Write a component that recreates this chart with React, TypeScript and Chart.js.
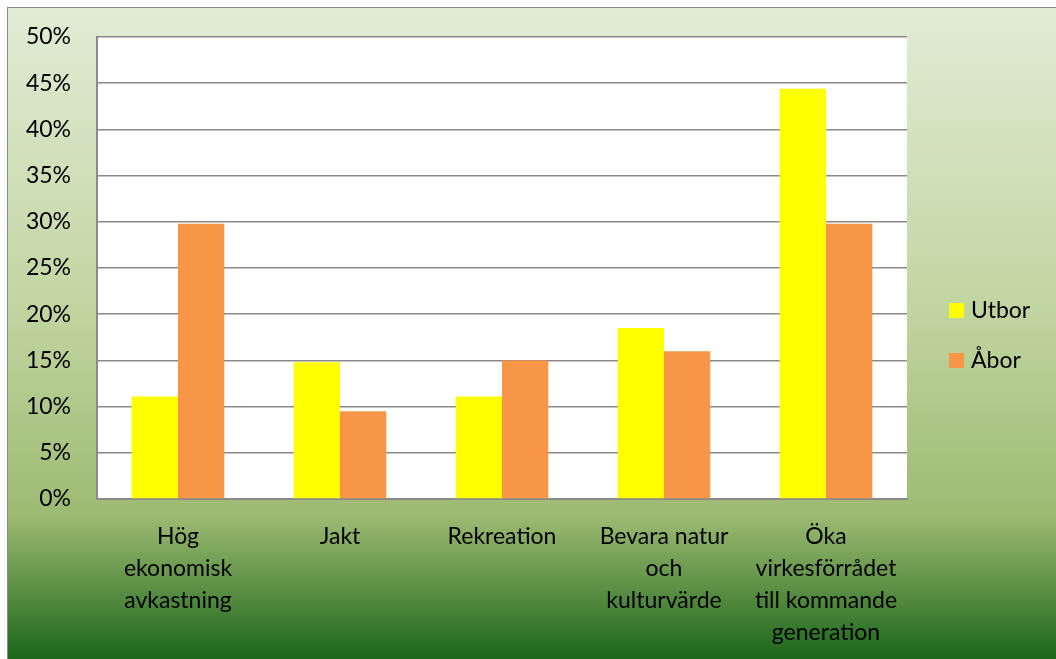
import React, { useEffect, useRef } from "react";
import { Chart, registerables } from "chart.js";

Chart.register(...registerables);

const categories: string[][] = [
  ["Hög", "ekonomisk", "avkastning"],
  ["Jakt"],
  ["Rekreation"],
  ["Bevara natur", "och", "kulturvärde"],
  ["Öka", "virkesförrådet", "till kommande", "generation"],
];
const utbor: number[] = [11.1, 14.8, 11.1, 18.5, 44.4];
const abor: number[] = [29.8, 9.5, 15.0, 16.0, 29.8];
const seriesNames: string[] = ["Utbor", "Åbor"];
const seriesColors: string[] = ["#FFFF00", "#F79646"];

const FONT = "Lato, 'Open Sans', sans-serif";
const FONT_SIZE = 23;

const bgPlugin = {
  id: "bgPlugin",
  beforeDraw(chart: any) {
    const { ctx, width, height, chartArea } = chart;
    ctx.save();
    const g = ctx.createLinearGradient(0, 0, 0, height);
    g.addColorStop(0, "#E1ECD5");
    g.addColorStop(0.45, "#C2D6A2");
    g.addColorStop(0.78, "#9DBA72");
    g.addColorStop(1, "#1B6619");
    ctx.fillStyle = g;
    ctx.fillRect(0, 0, width, height);
    ctx.fillStyle = "#FFFFFF";
    ctx.fillRect(chartArea.left, chartArea.top, chartArea.right - chartArea.left, chartArea.bottom - chartArea.top);
    ctx.restore();
  },
};

const legendPlugin = {
  id: "customLegend",
  afterDraw(chart: any) {
    const { ctx } = chart;
    ctx.save();
    const x0 = 941;
    const ys = [295, 345];
    chart.data.datasets.forEach((ds: any, i: number) => {
      ctx.fillStyle = ds.backgroundColor;
      ctx.fillRect(x0, ys[i], 15, 15);
      ctx.fillStyle = "#000000";
      ctx.font = `${FONT_SIZE}px ${FONT}`;
      ctx.textBaseline = "middle";
      ctx.textAlign = "left";
      ctx.fillText(ds.label, x0 + 22, ys[i] + 8);
    });
    ctx.restore();
  },
};

export default function App() {
  const ref = useRef<HTMLCanvasElement | null>(null);
  useEffect(() => {
    if (!ref.current) return;
    const chart = new Chart(ref.current, {
      type: "bar",
      data: {
        labels: categories,
        datasets: [
          { label: seriesNames[0], data: utbor, backgroundColor: seriesColors[0], borderWidth: 0 },
          { label: seriesNames[1], data: abor, backgroundColor: seriesColors[1], borderWidth: 0 },
        ],
      },
      options: {
        responsive: false,
        animation: false,
        maintainAspectRatio: false,
        layout: { padding: { top: 29, right: 149, left: 0, bottom: 0 } },
        datasets: { bar: { categoryPercentage: 0.5714, barPercentage: 1 } },
        plugins: { legend: { display: false }, tooltip: { enabled: false } },
        scales: {
          x: {
            grid: { display: false, drawTicks: false },
            border: { display: true, color: "#8a8a8a", width: 2 },
            ticks: {
              color: "#000000",
              font: { family: FONT, size: FONT_SIZE, lineHeight: 32 / FONT_SIZE },
              padding: 22,
              maxRotation: 0,
              autoSkip: false,
            },
            afterFit(scale: any) {
              scale.height = 160;
              scale.paddingLeft = 0;
              scale.paddingRight = 0;
            },
          },
          y: {
            min: 0,
            max: 50,
            grid: { color: "#8a8a8a", lineWidth: 1.5, drawTicks: false },
            border: { display: true, color: "#8a8a8a", width: 2 },
            ticks: {
              stepSize: 5,
              color: "#000000",
              font: { family: FONT, size: FONT_SIZE },
              padding: 26,
              callback: (v: any) => `${v}%`,
            },
            afterFit(scale: any) {
              scale.width = 89;
              scale.paddingTop = 0;
              scale.paddingBottom = 0;
            },
          },
        },
      },
      plugins: [bgPlugin, legendPlugin],
    });
    return () => chart.destroy();
  }, []);
  return (
    <div
      style={{
        position: "fixed",
        left: 7,
        top: 7,
        width: 1049,
        height: 652,
        overflow: "hidden",
        borderLeft: "1px solid #8a8a8a",
        borderTop: "1px solid #8a8a8a",
        boxSizing: "border-box",
      }}
    >
      <canvas ref={ref} width={1048} height={651} style={{ display: "block" }} />
    </div>
  );
}
